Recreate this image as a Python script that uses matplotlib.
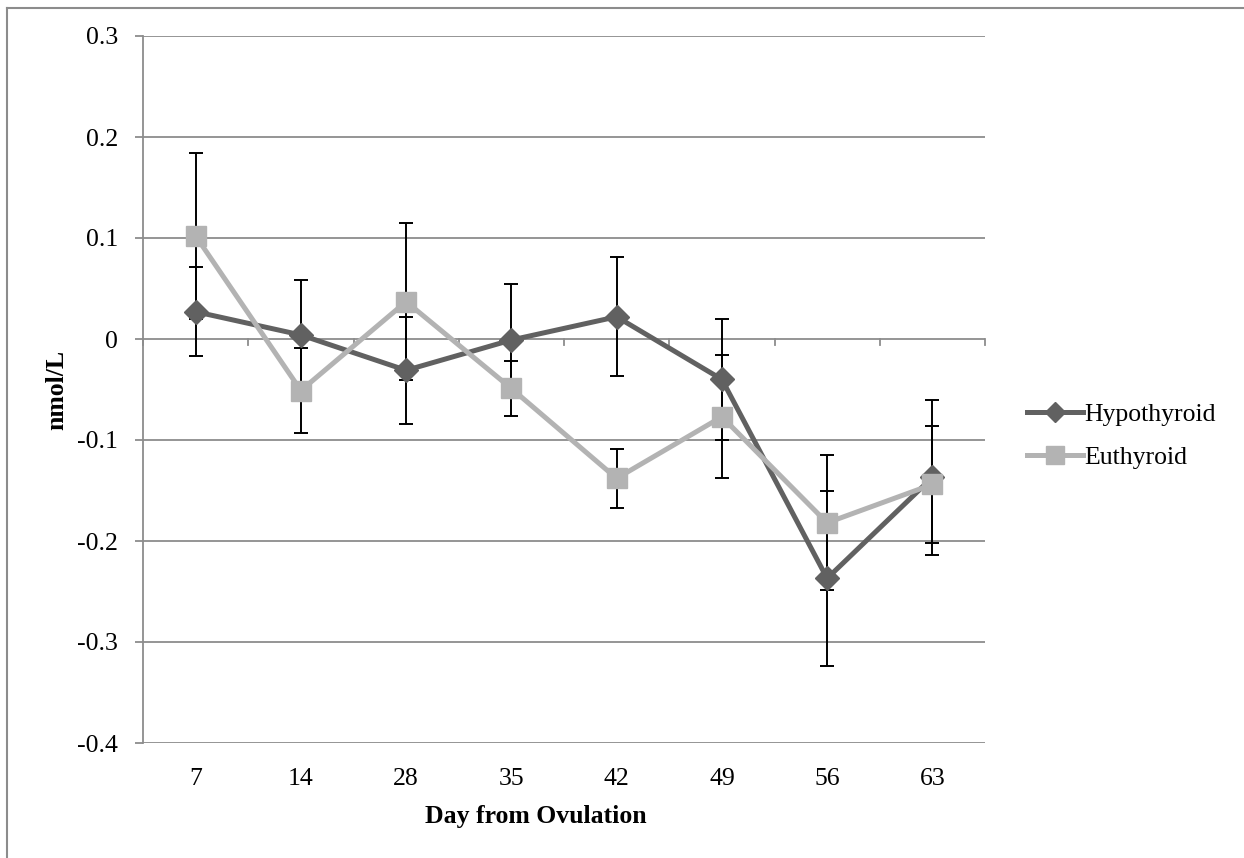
import matplotlib
matplotlib.use("Agg")
import matplotlib.pyplot as plt
from matplotlib.lines import Line2D

# data
days = ["7", "14", "28", "35", "42", "49", "56", "63"]
hypo = [0.027, 0.004, -0.031, -0.001, 0.022, -0.040, -0.237, -0.137]
hypo_err = [0.044, 0.054, 0.053, 0.055, 0.059, 0.060, 0.087, 0.077]
eu = [0.102, -0.051, 0.037, -0.049, -0.138, -0.077, -0.182, -0.144]
eu_err = [0.082, 0.042, 0.078, 0.027, 0.029, 0.061, 0.067, 0.058]
yticks = [0.3, 0.2, 0.1, 0, -0.1, -0.2, -0.3, -0.4]

plt.rcParams['font.family'] = ['Liberation Serif', 'DejaVu Serif']

dark = "#616161"
light = "#b3b3b3"
grid = "#8c8c8c"
fs = 18.5

fig = plt.figure(figsize=(12.44, 8.58), dpi=100)
ax = fig.add_axes([143 / 1244, 1 - 743 / 858, (985 - 143) / 1244, (743 - 36) / 858])

x = list(range(len(days)))

# gridlines
for v in yticks:
    ax.axhline(v, color=grid, lw=1.3, zorder=1)

# category boundary ticks on the zero line
for b in range(len(days) + 1):
    ax.plot([b - 0.5, b - 0.5], [0, -0.006], color=grid, lw=1.3, zorder=1, clip_on=False)

ax.errorbar(x, hypo, yerr=hypo_err, fmt="none", ecolor="black", elinewidth=1.4,
            capsize=5, capthick=1.4, zorder=2)
ax.errorbar(x, eu, yerr=eu_err, fmt="none", ecolor="black", elinewidth=1.4,
            capsize=5, capthick=1.4, zorder=2)
ax.plot(x, hypo, color=dark, lw=3.6, marker="D", ms=12, zorder=3)
ax.plot(x, eu, color=light, lw=3.6, marker="s", ms=14, zorder=4)

ax.set_xlim(-0.5, len(days) - 0.5)
ax.set_ylim(-0.4, 0.3)
ax.set_xticks(x)
ax.set_xticklabels(days)
ax.set_yticks(yticks)
ax.set_yticklabels(["0.3", "0.2", "0.1", "0", "-0.1", "-0.2", "-0.3", "-0.4"])
ax.tick_params(axis="x", length=0, labelsize=fs, pad=18)
ax.tick_params(axis="y", length=6, color=grid, width=1.3, labelsize=fs, pad=12)

for side in ["top", "right", "bottom"]:
    ax.spines[side].set_visible(False)
ax.spines["left"].set_color(grid)
ax.spines["left"].set_linewidth(1.3)

ax.set_xlabel("Day from Ovulation", fontsize=fs, fontweight="bold")
ax.set_ylabel("nmol/L", fontsize=fs, fontweight="bold")
ax.xaxis.set_label_coords(0.467, -0.088)
ax.yaxis.set_label_coords(-0.089, 0.5)

handles = [
    Line2D([], [], color=dark, lw=3.6, marker="D", ms=10),
    Line2D([], [], color=light, lw=3.6, marker="s", ms=13),
]
fig.legend(handles, ["Hypothyroid", "Euthyroid"], loc="center left",
           bbox_to_anchor=(1014 / 1244, 1 - 436 / 858), frameon=False,
           fontsize=fs, handlelength=2.2, handletextpad=0.05, labelspacing=0.78,
           borderpad=0)

# outer border (left and top only visible)
fig.add_artist(Line2D([7.5 / 1244, 7.5 / 1244], [0, 1 - 7.5 / 858], color=grid, lw=1.5))
fig.add_artist(Line2D([7.5 / 1244, 1], [1 - 7.5 / 858, 1 - 7.5 / 858], color=grid, lw=1.5))

fig.savefig("out.png", dpi=100)
